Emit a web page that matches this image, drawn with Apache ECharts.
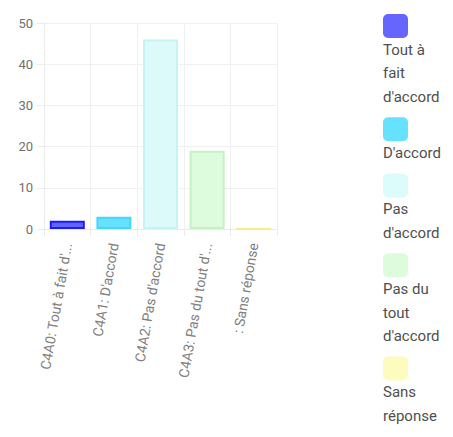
<!DOCTYPE html>
<html>
<head>
<meta charset="utf-8">
<script src="https://cdn.jsdelivr.net/npm/echarts@6/dist/echarts.min.js"></script>
<style>
html,body{margin:0;padding:0;background:#fff;}
#chart{width:453px;height:437px;}
</style>
</head>
<body>
<div id="chart"></div>
<script>
var categories = ["C4A0: Tout à fait d'accord", "C4A1: D'accord", "C4A2: Pas d'accord", "C4A3: Pas du tout d'accord", ": Sans réponse"];
var values = [2, 3, 46, 19, 0];
var legendNames = ["Tout à fait d'accord", "D'accord", "Pas d'accord", "Pas du tout d'accord", "Sans réponse"];
var legendLines = [["Tout à", "fait", "d'accord"], ["D'accord"], ["Pas", "d'accord"], ["Pas du", "tout", "d'accord"], ["Sans", "réponse"]];
var fillColors = ["#6464ff", "#66e2ff", "#dcfafa", "#ddfcdd", "#fcfcb4"];
var borderColors = ["#1a1aff", "#44d6ff", "#c6f4f4", "#c4f2c4", "#f4ee84"];
var legendColors = ["#6666ff", "#66e2ff", "#dcfcfc", "#ddfcdd", "#fcfcbe"];
var yTicks = {min: 0, max: 50, interval: 10};

var labelWidths = [135.5, 137, 137, 140.5, 137];

var chart = echarts.init(document.getElementById('chart'), null, {renderer: 'svg'});

var rich = {t: {fontFamily: 'Roboto', fontSize: 15, lineHeight: 23.5, color: '#4f4f4f'}};
legendColors.forEach(function (c, i) {
  rich['b' + i] = {width: 25, height: 24, lineHeight: 24, backgroundColor: c, borderRadius: 5};
});

var series = [{
  type: 'bar',
  name: 'values',
  barWidth: 35,
  data: values.map(function (v, i) {
    return {value: v, itemStyle: {color: fillColors[i], borderColor: borderColors[i], borderWidth: 2}};
  }),
  animation: false
}];
legendNames.forEach(function (n, i) {
  series.push({type: 'scatter', name: n, data: [], itemStyle: {color: legendColors[i]}, animation: false});
});

chart.setOption({
  animation: false,
  grid: {left: 44, top: 23, width: 233, height: 206, containLabel: false},
  xAxis: {
    type: 'category',
    data: categories.map(function (c, i) {
      return {value: c, textStyle: {width: labelWidths[i], overflow: 'truncate'}};
    }),
    boundaryGap: true,
    axisLine: {show: true, lineStyle: {color: '#ebebeb'}},
    axisTick: {show: true, length: 7, lineStyle: {color: '#ebebeb'}},
    splitLine: {show: true, lineStyle: {color: '#f0f0f0'}},
    axisLabel: {
      rotate: 80, margin: 14, interval: 0,
      fontFamily: 'Roboto', fontSize: 14, color: '#808080',
      width: 137, overflow: 'truncate', ellipsis: '...'
    }
  },
  yAxis: {
    type: 'value',
    min: yTicks.min, max: yTicks.max, interval: yTicks.interval,
    axisLine: {show: true, lineStyle: {color: '#ebebeb'}},
    axisTick: {show: true, length: 7, lineStyle: {color: '#ebebeb'}},
    splitLine: {show: true, lineStyle: {color: '#f0f0f0'}},
    axisLabel: {margin: 11, fontFamily: 'Roboto', fontSize: 13, color: '#707070'}
  },
  legend: {
    orient: 'vertical',
    left: 373, top: 9,
    itemWidth: 0, itemHeight: 0, itemGap: 13,
    icon: 'rect',
    selectedMode: false,
    data: legendNames,
    formatter: function (name) {
      var i = legendNames.indexOf(name);
      return '{b' + i + '|}\n' + legendLines[i].map(function (l) { return '{t|' + l + '}'; }).join('\n');
    },
    textStyle: {rich: rich}
  },
  series: series
});
</script>
</body>
</html>
